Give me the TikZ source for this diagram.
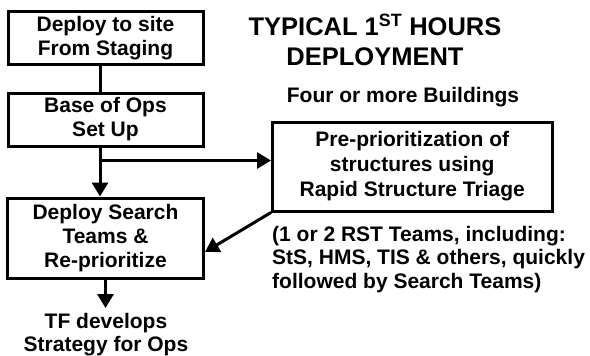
\documentclass[tikz,border=0pt]{standalone}
\usepackage{fontspec}
\setmainfont{Liberation Sans}
\usetikzlibrary{arrows.meta,calc}
\begin{document}
\begin{tikzpicture}[x=1pt,y=-1pt,
  box/.style={draw,line width=3pt,inner sep=0pt,align=center,font=\bfseries\fontsize{21}{24}\selectfont},
  lbl/.style={inner sep=0pt,align=center,font=\bfseries\fontsize{21}{23.5}\selectfont},
  conn/.style={line width=3pt},
  arr/.style={line width=3pt,-{Triangle[length=14pt,width=16pt]}}]
\useasboundingbox (0,0) rectangle (590,356);
\node[box,minimum width=195pt,minimum height=53pt] (b1) at (105.5,38) {Deploy to site\\From Staging};
\node[box,minimum width=195pt,minimum height=53pt] (b2) at (105.5,119.5) {Base of Ops\\Set Up};
\node[box,minimum width=196pt,minimum height=80pt] (b3) at (105.5,238) {Deploy Search\\Teams \&\\Re-prioritize};
\node[box,minimum width=279.5pt,minimum height=89pt,font=\bfseries\fontsize{21}{25}\selectfont] (b4) at (412.25,166.5) {Pre-prioritization of\\structures using\\Rapid Structure Triage};
\node[font=\bfseries\fontsize{25.5}{30}\selectfont,align=center,inner sep=0pt] (title) at (375,40) {TYPICAL 1\textsuperscript{ST} HOURS\\DEPLOYMENT};
\node[lbl] (four) at (403,97) {Four or more Buildings};
\node[lbl,align=left,anchor=north west] (note) at (272,226) {(1 or 2 RST Teams, including:\\StS, HMS, TIS \& others, quickly\\followed by Search Teams)};
\node[lbl,anchor=north] (tf) at (106,313) {TF develops\\Strategy for Ops};
\coordinate (j) at (100,160.5);
\coordinate (dy) at (0,252);
\draw[conn] (b1.south -| j) -- (b2.north -| j);
\draw[arr] (b2.south -| j) -- (b3.north -| j);
\draw[arr] (j) -- (j -| b4.west);
\draw[arr] (b4.south west) -- (b3.east |- dy);
\draw[arr] (b3.south) -- ([yshift=5pt]b3.south |- tf.north);
\end{tikzpicture}
\end{document}
